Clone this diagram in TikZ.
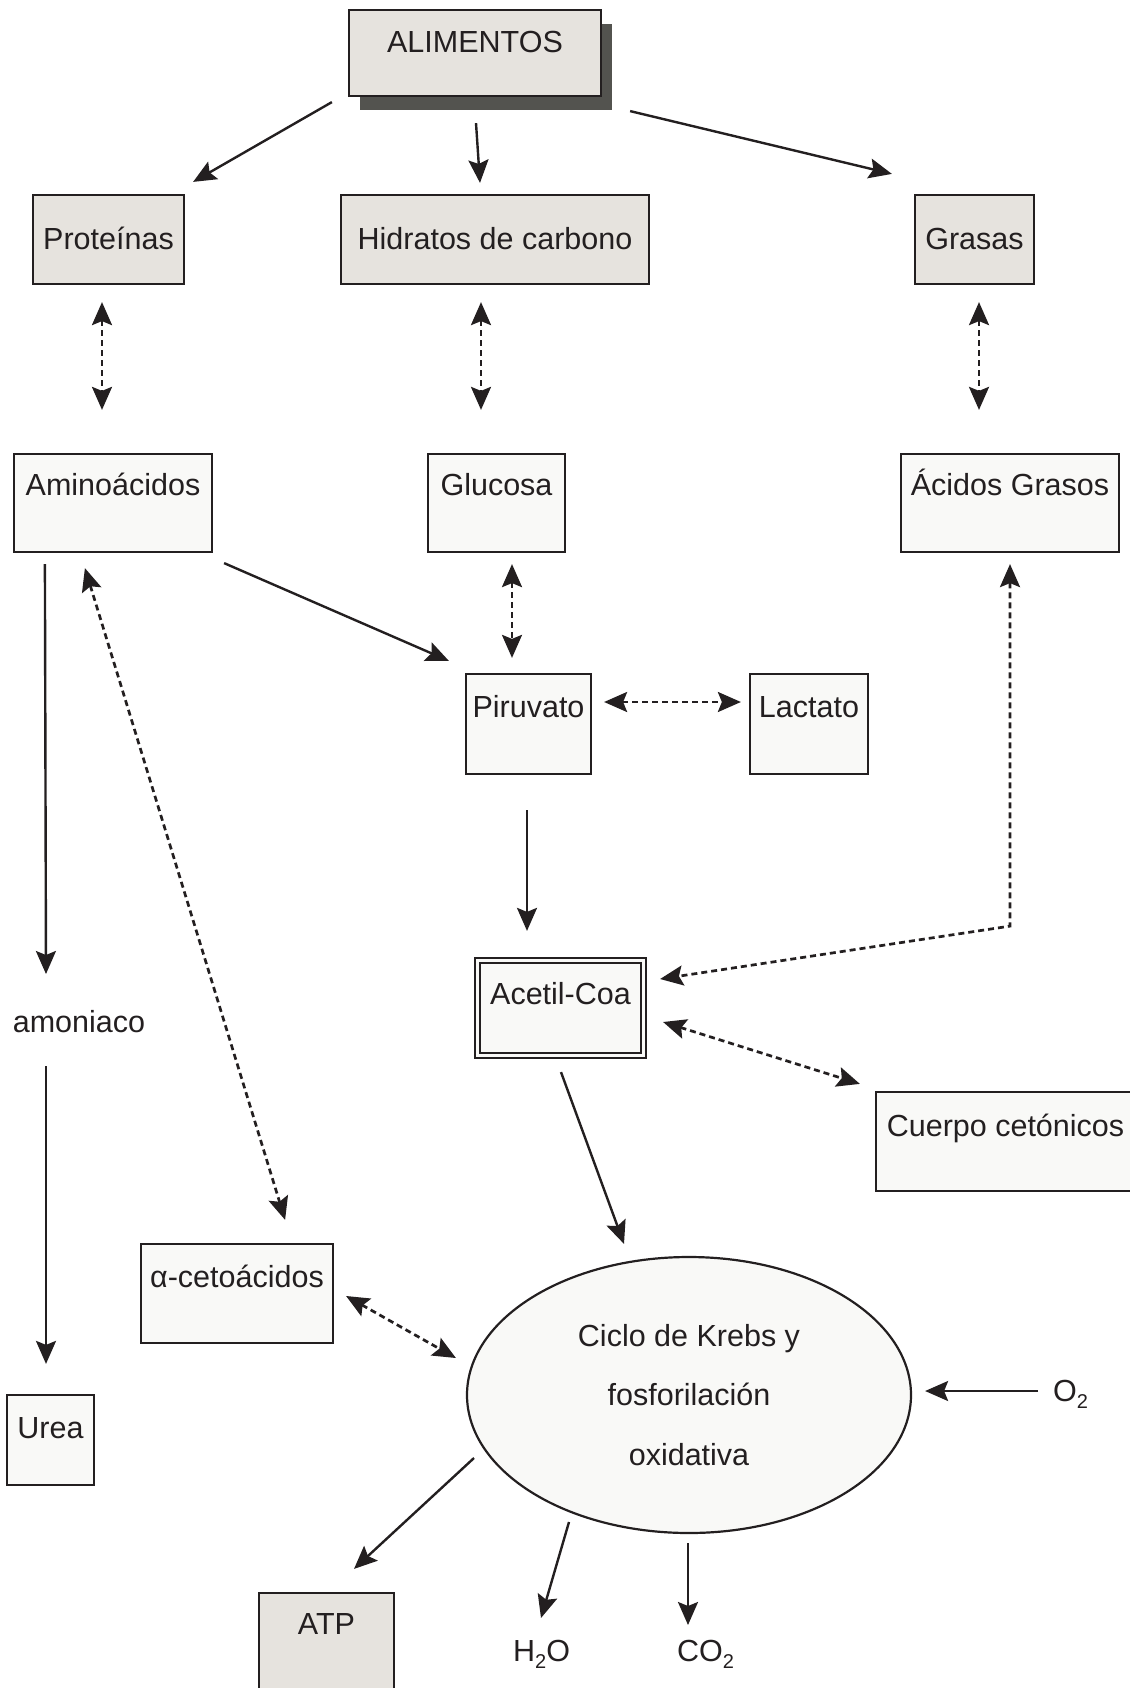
\documentclass[tikz,border=0pt]{standalone}
\usepackage{fontspec}
\setmainfont{Liberation Sans}
\usetikzlibrary{arrows.meta,calc,shapes.geometric,shadows}

\definecolor{ink}{HTML}{231F20}
\definecolor{boxgray}{HTML}{E6E3DE}
\definecolor{boxlight}{HTML}{F9F9F7}
\definecolor{shadowgray}{HTML}{53534F}

% lowered small digit for chemical formulas
\newcommand\chemsub[1]{\raisebox{-7pt}{\fontsize{20}{20}\selectfont #1}}

\tikzset{
  every node/.style={font=\fontsize{30.5}{36}\selectfont, text=ink},
  box/.style={draw=ink, line width=2.2pt, rectangle, inner sep=0pt},
  graybox/.style={box, fill=boxgray},
  lightbox/.style={box, fill=boxlight},
  % width, distance top->baseline, distance baseline->bottom
  sz/.style n args={3}{minimum width=#1, text height=#2, text depth=#3},
  tip/.tip={Stealth[length=23pt,width=20pt,inset=4pt]},
  arr/.style={draw=ink, line width=2.4pt, -tip},
  dotarr/.style={draw=ink, line width=2.7pt, dash pattern=on 6pt off 4pt, tip-tip},
}

\begin{document}
\begin{tikzpicture}[x=1pt, y=-1pt]
\useasboundingbox (0,0) rectangle (1129,1688);

% food groups
\node[graybox, sz={252pt}{43pt}{43pt},
      drop shadow={shadow xshift=11pt, shadow yshift=-14pt, fill=shadowgray, opacity=1}]
      (alim) at (475,53) {ALIMENTOS};
\node[graybox, sz={151pt}{55pt}{34pt}] (prot) at (108.5,239.5) {Proteínas};
\node[graybox, sz={308pt}{55pt}{34pt}] (hidr) at (495,239.5) {Hidratos de carbono};
\node[graybox, sz={119pt}{55pt}{34pt}] (gras) at (974.5,239.5) {Grasas};

% monomers
\node[lightbox, sz={198pt}{41pt}{57pt}] (amino) at (113,503) {Aminoácidos};
\node[lightbox, sz={137pt}{41pt}{57pt}] (gluc) at (496.5,503) {Glucosa};
\node[lightbox, sz={218pt}{41pt}{57pt}] (acgr) at (1010,503) {Ácidos Grasos};

% intermediates
\node[lightbox, sz={125pt}{43pt}{57pt}] (piru) at (528.5,724) {Piruvato};
\node[lightbox, sz={118pt}{43pt}{57pt}] (lact) at (809,724) {Lactato};
\node[box, fill=boxlight, double=boxlight, double distance=3pt, sz={166pt}{43.5pt}{51.5pt}]
      (acet) at (560.5,1008) {Acetil-Coa};
\node[lightbox, sz={259pt}{44pt}{55pt}] (cuer) at (1005.5,1141.5) {Cuerpo cetónicos};
\node[lightbox, sz={192pt}{43pt}{56pt}] (alfa) at (237,1293.5) {α-cetoácidos};
\node[lightbox, sz={87pt}{43pt}{47pt}] (urea) at (50.5,1440) {Urea};
\node[graybox, sz={135pt}{41pt}{66pt}] (atp) at (326.5,1646.5) {ATP};
\node[anchor=base, inner sep=0pt] (amon) at (79,1032) {amoniaco};

% Krebs cycle
\node[ellipse, draw=ink, line width=2.2pt, fill=boxlight, inner sep=0pt,
      minimum width=444pt, minimum height=276pt, align=center,
      font=\fontsize{30.5}{59.5}\selectfont]
      (krebs) at (689,1395) {Ciclo de Krebs y\\fosforilación\\oxidativa};

% inputs and products
\node[anchor=base west, inner sep=0pt] (o2) at (1053,1401) {O\chemsub{2}};
\node[anchor=base west, inner sep=0pt] (h2o) at (513,1661) {H\chemsub{2}O};
\node[anchor=base west, inner sep=0pt] (co2) at (677,1661) {CO\chemsub{2}};

% digestion
\draw[arr] ($(alim.south west)+(-16,5)$) -- ($(prot.north east)+(8,-12)$);
\draw[arr] ($(alim.south)+(1,26)$) -- ($(hidr.north)+(-15,-11)$);
\draw[arr] ($(alim.south east)+(28,14)$) -- ($(gras.north west)+(-22,-20)$);
\draw[dotarr] ($(prot.south)+(-6.5,17)$) -- ($(amino.north)+(-11,-43)$);
\draw[dotarr] ($(hidr.south)+(-14,17)$) -- ($(gluc.north)+(-15.5,-43)$);
\draw[dotarr] ($(gras.south)+(4.5,17)$) -- ($(acgr.north)+(-31,-43)$);

% amino acid fate
\draw[arr] ($(amino.south west)+(32,11)$) -- ($(amon.base)+(-33,-58)$);
\draw[arr] ($(amon.base)+(-33,34)$) -- ($(urea.north)+(-4.5,-30)$);
\draw[dotarr] ($(amino.south west)+(72,15)$) -- ($(alfa.north east)+(-49,-23)$);
\draw[arr] ($(amino.south east)+(11,10)$) -- ($(piru.north west)+(-16,-12)$);

% glycolysis and fatty acids
\draw[dotarr] ($(gluc.south)+(15.5,11)$) -- ($(piru.north)+(-16.5,-15)$);
\draw[dotarr] ($(piru.east)+(12,-22)$) -- ($(lact.west)+(-8,-22)$);
\draw[arr] ($(piru.south)+(-1.5,35)$) -- ($(acet.north)+(-33.5,-28.5)$);
\draw[dotarr] ($(acgr.south)+(0,11)$) -- ($(acgr.south)+(0,373)$) -- ($(acet.east)+(15.5,-29)$);
\draw[dotarr] ($(acet.east)+(18.5,14)$) -- ($(cuer.north west)+(-15,-7)$);

% Krebs cycle links
\draw[arr] ($(acet.south)+(0.5,15.5)$) -- ($(krebs.north)+(-65,-12)$);
\draw[dotarr] ($(alfa.east)+(12,2.5)$) -- ($(krebs.west)+(-10,-37)$);
\draw[arr] ($(o2.base west)+(-15,-10)$) -- ($(krebs.east)+(13,-4)$);
\draw[arr] ($(krebs.center)+(-215,63)$) -- ($(atp.north)+(27.5,-23)$);
\draw[arr] ($(krebs.center)+(-120,127)$) -- ($(h2o.base west)+(28,-43)$);
\draw[arr] ($(krebs.south)+(-1,9)$) -- ($(co2.base west)+(11,-36)$);
\end{tikzpicture}
\end{document}
